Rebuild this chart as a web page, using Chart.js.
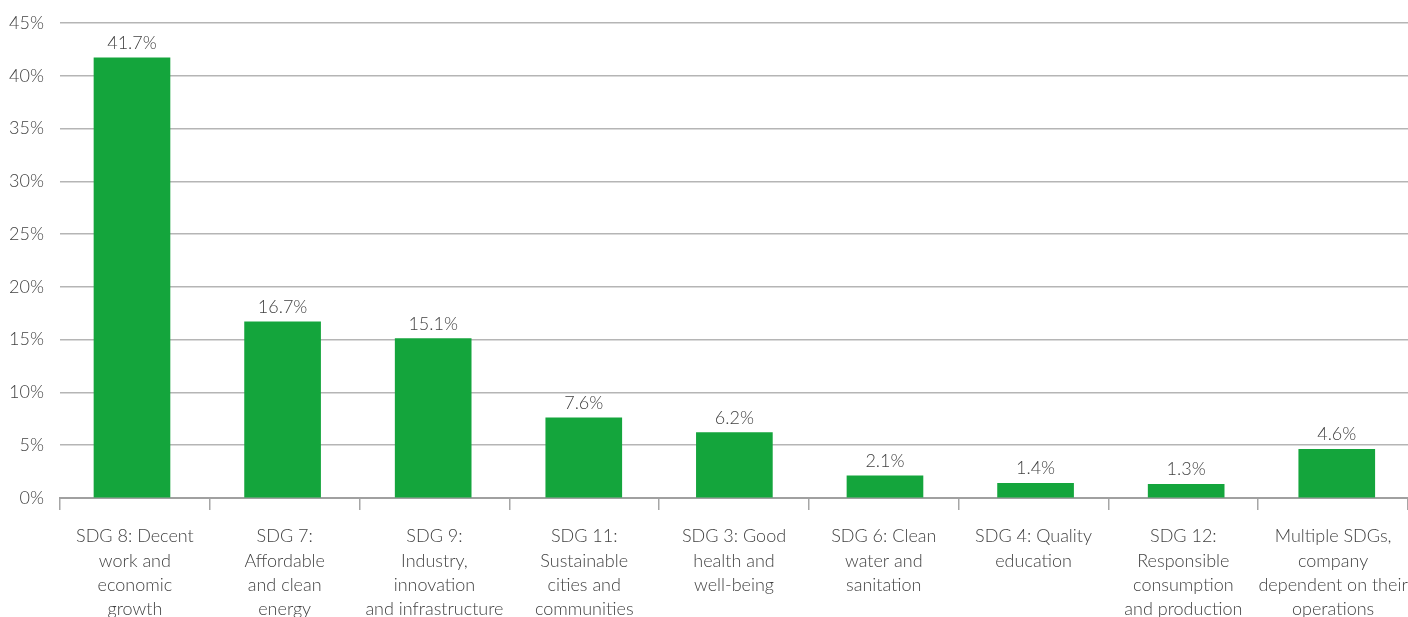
<!DOCTYPE html>
<html>
<head>
<meta charset="utf-8">
<script src="https://cdn.jsdelivr.net/npm/chart.js@4.4.1/dist/chart.umd.min.js"></script>
<style>
  html, body { margin: 0; padding: 0; background: #ffffff; overflow: hidden; }
  #wrap { position: relative; width: 1460px; height: 660px; }
</style>
</head>
<body>
<div id="wrap"><canvas id="chart"></canvas></div>
<script>
// Share of companies by primary Sustainable Development Goal
const categories = [
  ["SDG 8: Decent", "work and", "economic", "growth"],
  ["SDG 7:", "Affordable", "and clean", "energy"],
  ["SDG 9:", "Industry,", "innovation", "and infrastructure"],
  ["SDG 11:", "Sustainable", "cities and", "communities"],
  ["SDG 3: Good", "health and", "well-being"],
  ["SDG 6: Clean", "water and", "sanitation"],
  ["SDG 4: Quality", "education"],
  ["SDG 12:", "Responsible", "consumption", "and production"],
  ["Multiple SDGs,", "company", "dependent on their", "operations"]
];
const shares = [41.7, 16.7, 15.1, 7.6, 6.2, 2.1, 1.4, 1.3, 4.6];
const yTicks = [0, 5, 10, 15, 20, 25, 30, 35, 40, 45];

const FONT = "Lato, 'Open Sans', sans-serif";
const TEXT = "#424242";

// Percentage labels above each bar
const valueLabels = {
  id: "valueLabels",
  afterDatasetsDraw(chart) {
    const { ctx } = chart;
    const meta = chart.getDatasetMeta(0);
    ctx.save();
    ctx.font = "300 18px " + FONT;
    ctx.fillStyle = TEXT;
    ctx.textAlign = "center";
    ctx.textBaseline = "alphabetic";
    meta.data.forEach((bar, i) => {
      ctx.fillText(shares[i].toFixed(1) + "%", bar.x, bar.y - 9);
    });
    ctx.restore();
  }
};

new Chart(document.getElementById("chart"), {
  type: "bar",
  data: {
    labels: categories,
    datasets: [{
      data: shares.map((v, i) => ({ x: i, y: v })),
      xAxisID: "xb",
      backgroundColor: "#14a53c",
      borderWidth: 0,
      barThickness: 76
    }]
  },
  options: {
    responsive: true,
    maintainAspectRatio: false,
    animation: false,
    events: [],
    layout: { padding: { top: 23, right: 52, left: 0, bottom: 0 } },
    plugins: { legend: { display: false }, tooltip: { enabled: false } },
    scales: {
      // bar placement axis (one unit per category, slightly wider pitch than the label slots)
      xb: {
        type: "linear",
        display: false,
        offset: false,
        grace: 0,
        min: -0.478,
        max: 8.473
      },
      x: {
        type: "category",
        offset: true,
        grid: {
          offset: true,
          drawOnChartArea: false,
          drawTicks: true,
          tickLength: 12,
          color: "#a6a6a6",
          lineWidth: 1.5
        },
        border: { display: true, color: "#a0a0a0", width: 2 },
        ticks: {
          color: TEXT,
          font: { family: FONT, size: 18, weight: 300, lineHeight: 1.36 },
          padding: 14,
          maxRotation: 0,
          autoSkip: false
        },
        afterFit(scale) { scale.height = 162; }
      },
      y: {
        min: 0,
        max: 45,
        afterBuildTicks(scale) { scale.ticks = yTicks.map(v => ({ value: v })); },
        grid: { color: "#b5b5b5", lineWidth: 1.5, drawTicks: false },
        border: { display: false },
        ticks: {
          color: TEXT,
          font: { family: FONT, size: 18, weight: 300 },
          padding: 16,
          callback: v => v + "%"
        },
        afterFit(scale) {
          scale.width = 60;
          scale.paddingTop = 0;
          scale.paddingBottom = 0;
        }
      }
    }
  },
  plugins: [valueLabels]
});
</script>
</body>
</html>
